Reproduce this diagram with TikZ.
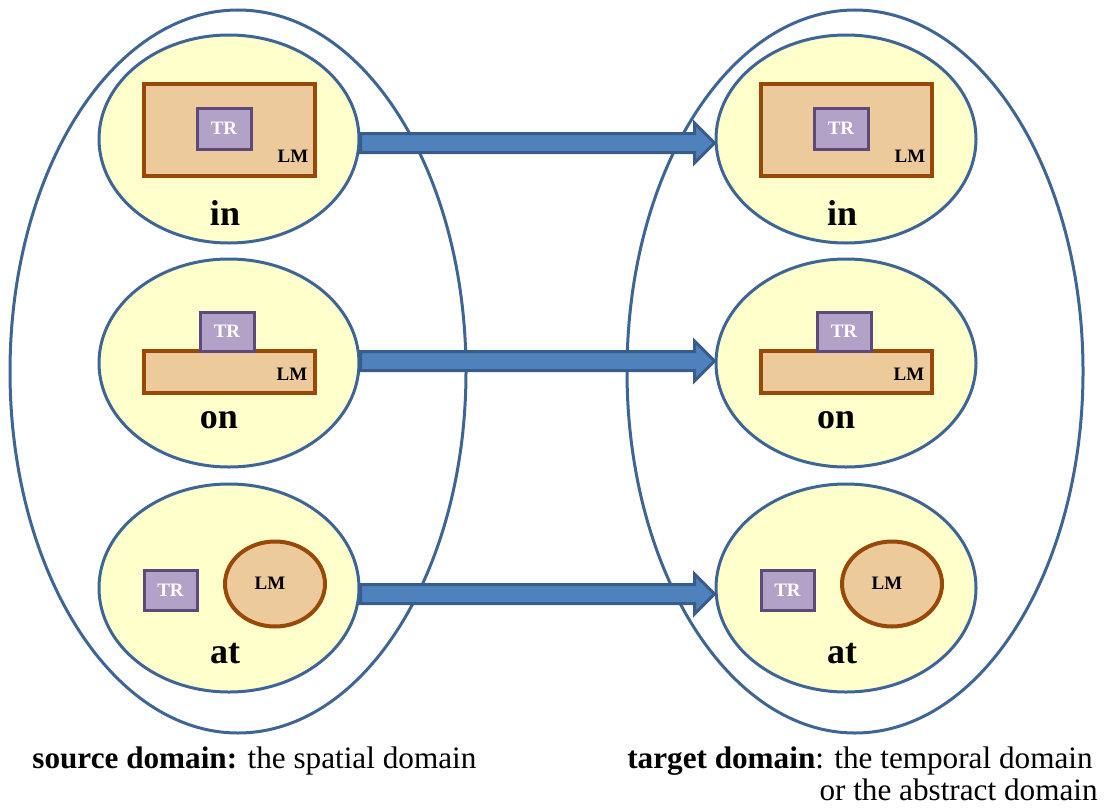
\documentclass[tikz,border=0pt]{standalone}
\usepackage{fontspec}
\setmainfont{Liberation Serif}
\usetikzlibrary{shapes.geometric,calc}
\definecolor{bordblue}{HTML}{3D6595}
\definecolor{paleyellow}{HTML}{FFFFCC}
\definecolor{arrowfill}{HTML}{4F81BD}
\definecolor{arrowline}{HTML}{385D8A}
\definecolor{lmfill}{HTML}{ECCA9B}
\definecolor{lmline}{HTML}{984807}
\definecolor{trfill}{HTML}{B3A2C7}
\definecolor{trline}{HTML}{5F497A}
\tikzset{
  domainoval/.style={ellipse, draw=bordblue, line width=1.5pt, inner sep=0pt, minimum width=228pt, minimum height=361.5pt},
  sceneoval/.style={ellipse, draw=bordblue, fill=paleyellow, line width=1.5pt, inner sep=0pt, minimum width=130pt, minimum height=104pt},
  lmrect/.style={rectangle, draw=lmline, fill=lmfill, line width=2pt, inner sep=0pt},
  lmoval/.style={ellipse, draw=lmline, fill=lmfill, line width=2pt, inner sep=0pt, minimum width=50pt, minimum height=42.5pt},
  trbox/.style={rectangle, draw=trline, fill=trfill, line width=1.5pt, inner sep=0pt, text=white, font=\fontsize{9.5pt}{11pt}\selectfont\bfseries},
  lmtext/.style={inner sep=0pt, anchor=base, font=\fontsize{9.5pt}{11pt}\selectfont\bfseries},
  wordtext/.style={inner sep=0pt, anchor=base, font=\fontsize{18pt}{21pt}\selectfont\bfseries},
  captext/.style={inner sep=0pt, font=\fontsize{15.6pt}{18pt}\selectfont},
  maparrow/.style={fill=arrowfill, draw=arrowline, line width=1.5pt, line join=miter}
}
\newcommand{\PanelIn}[1]{%
  \node[lmrect, minimum width=85.5pt, minimum height=46pt] (#1-lm) at ($(#1)+(0.5,-9)$) {};
  \node[trbox, minimum width=27pt, minimum height=20.5pt] (#1-tr) at ($(#1)+(-5,-10.5)$) {TR};
  \node[lmtext] (#1-lmt) at ($(#1)+(64,23)$) {LM};
  \node[wordtext] (#1-w) at ($(#1)+(-4,86)$) {in};
}
\newcommand{\PanelOn}[1]{%
  \node[lmrect, minimum width=85.5pt, minimum height=21pt] (#1-lm) at ($(#1)+(0.5,9)$) {};
  \node[trbox, minimum width=27pt, minimum height=19.5pt] (#1-tr) at ($(#1)+(-2,-31.5)$) {TR};
  \node[lmtext] (#1-lmt) at ($(#1)+(63,17)$) {LM};
  \node[wordtext] (#1-w) at ($(#1)+(-10,65)$) {on};
}
\newcommand{\PanelAt}[1]{%
  \node[trbox, minimum width=26.5pt, minimum height=20pt] (#1-tr) at ($(#1)+(-58.5,2)$) {TR};
  \node[lmoval] (#1-lm) at ($(#1)+(46,-4)$) {};
  \node[lmtext] (#1-lmt) at ($(#1)+(41,1)$) {LM};
  \node[wordtext] (#1-w) at ($(#1)+(-4,75)$) {at};
}
\newcommand{\MapArrow}[3]{%
  \coordinate (#1-a) at ($(#1.east)+(0,#3)$);
  \coordinate (#2-b) at ($(#2.west)+(0,#3)$);
  \draw[maparrow] ($(#1-a)+(0,-9.5)$) -- ($(#2-b)+(-20,-9.5)$) -- ($(#2-b)+(-20,-20)$) -- (#2-b)
     -- ($(#2-b)+(-20,20)$) -- ($(#2-b)+(-20,9.5)$) -- ($(#1-a)+(0,9.5)$) -- cycle;
}
\begin{document}
\begin{tikzpicture}[x=0.5pt,y=-0.5pt]
\useasboundingbox (0,0) rectangle (1106,808);
% domains
\node[domainoval] (src) at (238,371.5) {};
\node[domainoval] (tgt) at (855,371.5) {};
% scenes
\node[sceneoval] (sin) at (229,139) {};
\node[sceneoval] (son) at (229,363) {};
\node[sceneoval] (sat) at (229,588) {};
\node[sceneoval] (tin) at (846,139) {};
\node[sceneoval] (ton) at (846,363) {};
\node[sceneoval] (tat) at (846,588) {};
\PanelIn{sin}
\PanelOn{son}
\PanelAt{sat}
\PanelIn{tin}
\PanelOn{ton}
\PanelAt{tat}
% mappings
\MapArrow{sin}{tin}{4}
\MapArrow{son}{ton}{-2}
\MapArrow{sat}{tat}{6}
% captions
\node[captext, anchor=base west] (srccap) at (32,768) {\textbf{source domain:} the spatial domain};
\node[captext, anchor=base east] (tgtcap1) at (1093,768) {\textbf{target domain}: the temporal domain};
\node[captext, anchor=base east] (tgtcap2) at (1098,800) {or the abstract domain};
\end{tikzpicture}
\end{document}
